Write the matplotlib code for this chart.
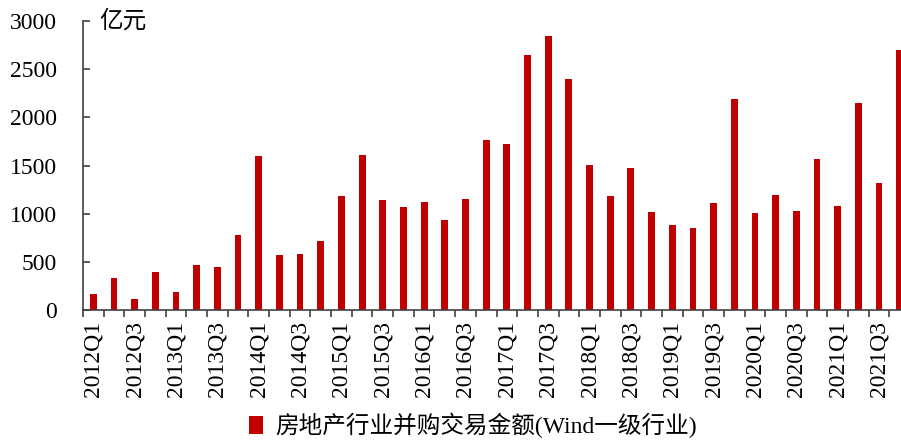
import numpy as np
import matplotlib as mpl
mpl.use("Agg")
import matplotlib.pyplot as plt

plt.rcParams['font.family'] = ['Liberation Serif', 'Noto Sans CJK SC']

quarters = [f"{y}Q{q}" for y in range(2012, 2022) for q in range(1, 5)]
values = [163, 335, 118, 398, 187, 463, 442, 778,
          1597, 574, 581, 719, 1182, 1604, 1137, 1068,
          1120, 937, 1148, 1760, 1718, 2651, 2845, 2402,
          1504, 1182, 1469, 1013, 881, 850, 1106, 2188,
          1006, 1192, 1023, 1563, 1082, 2147, 1317, 2696]
series_name = "房地产行业并购交易金额(Wind一级行业)"
unit = "亿元"

W, H = 901, 441
fig = plt.figure(figsize=(W / 100, H / 100), dpi=100)
ax = fig.add_axes([83 / W, 1 - 310 / H, 827 / W, 289 / H])

x = np.arange(len(quarters))
ax.bar(x, values, width=0.33, color='#C00000', label=series_name)

ax.set_xlim(-0.5, len(quarters) - 0.5)
ax.set_ylim(0, 3000)
ax.set_yticks(np.arange(0, 3001, 500))

# labels on bar centres (every second quarter), ticks on category borders
ax.set_xticks(x[::2])
ax.set_xticklabels(quarters[::2], rotation=90, fontsize=17)
ax.set_xticks(np.arange(-0.5, len(quarters)), minor=True)
ax.tick_params(axis='x', which='major', length=0, pad=8)
ax.tick_params(axis='x', which='minor', direction='out', length=5, width=1.2, color='#404040')
ax.tick_params(axis='y', direction='in', length=5, width=1.2, color='#404040',
               labelsize=17, pad=19)

for s in ['top', 'right']:
    ax.spines[s].set_visible(False)
for s in ['left', 'bottom']:
    ax.spines[s].set_color('#404040')
    ax.spines[s].set_linewidth(1.2)

ax.text(0.3, 3000, unit, fontsize=17, va='center', ha='left')

fig.legend(loc='lower center', bbox_to_anchor=(0.525, -0.042), frameon=False,
           fontsize=17, handlelength=0.6, handleheight=0.8, handletextpad=0.5)

fig.savefig('out.png', dpi=100)
